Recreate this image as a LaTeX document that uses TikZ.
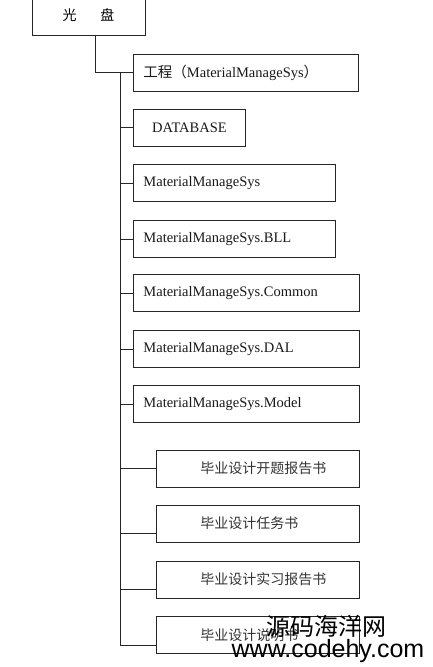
\documentclass[tikz,border=0pt]{standalone}
\usepackage{fontspec}
\setmainfont{Liberation Serif}
\newfontfamily\cjk{Noto Sans CJK SC}
\newfontfamily\wmsans{Liberation Sans}
\begin{document}
\begin{tikzpicture}[x=1pt,y=-1pt,
  line/.style={draw=black!85, line width=0.9pt},
  box/.style={line, rectangle, anchor=west, minimum height=37pt, inner xsep=10pt, inner ysep=0pt,
    align=left, font=\fontsize{14.5}{16}\selectfont, text=black!90},
  cbox/.style={box, font=\cjk\fontsize{14}{16}\selectfont, text=black!80},
  wmA/.style={font=\cjk\fontsize{24}{26}\selectfont, inner sep=0pt, text=black},
  wmB/.style={font=\wmsans\fontsize{25}{26}\selectfont, inner sep=0pt, text=black}]
\useasboundingbox (0,0) rectangle (433,667);
\clip (0,0) rectangle (433,667);
\fill[white] (0,0) rectangle (433,667);

\node[line, rectangle, minimum width=113pt, minimum height=40pt, inner sep=0pt,
  font=\cjk\fontsize{14}{16}\selectfont] (root) at (88.5,15) {光\hspace{24pt}盘};

\node[box, text width=205pt] (b1) at (133,72.5) {{\cjk 工程（}MaterialManageSys{\cjk ）}};
\node[box, text width=92pt, align=center] (b2) at (133,127.5) {DATABASE};
\node[box, text width=182pt] (b3) at (133,183) {MaterialManageSys};
\node[box, text width=182pt] (b4) at (133,239) {MaterialManageSys.BLL};
\node[box, text width=206pt] (b5) at (133,293) {MaterialManageSys.Common};
\node[box, text width=206pt] (b6) at (133,349) {MaterialManageSys.DAL};
\node[box, text width=206pt] (b7) at (133,404) {MaterialManageSys.Model};

\node[cbox, text width=183pt] (c1) at (156,468.5) {\hspace*{34pt}毕业设计开题报告书};
\node[cbox, text width=183pt] (c2) at (156,523.5) {\hspace*{34pt}毕业设计任务书};
\node[cbox, text width=183pt] (c3) at (156,579.5) {\hspace*{34pt}毕业设计实习报告书};
\node[cbox, text width=183pt] (c4) at (156,635) {\hspace*{34pt}毕业设计说明书};

\coordinate (ttop) at (120,72.5);
\coordinate (tbot) at ([yshift=9pt]c4.south west -| ttop);

\draw[line] ([xshift=6.5pt]root.south) |- (b1.west);
\draw[line] (ttop) -- (tbot);
\foreach \b in {b2,b3,b4,b5,b6,b7,c1}
  \draw[line] (\b.west -| ttop) -- (\b.west);
\foreach \b in {c2,c3,c4}
  \draw[line] ([yshift=9pt]\b.south west -| ttop) -- ([yshift=9pt]\b.south west);

\node[wmA] (wm1) at (326,626) {源码海洋网};
\node[wmB] (wm2) at (328,651) {www.codehy.com};
\end{tikzpicture}
\end{document}
